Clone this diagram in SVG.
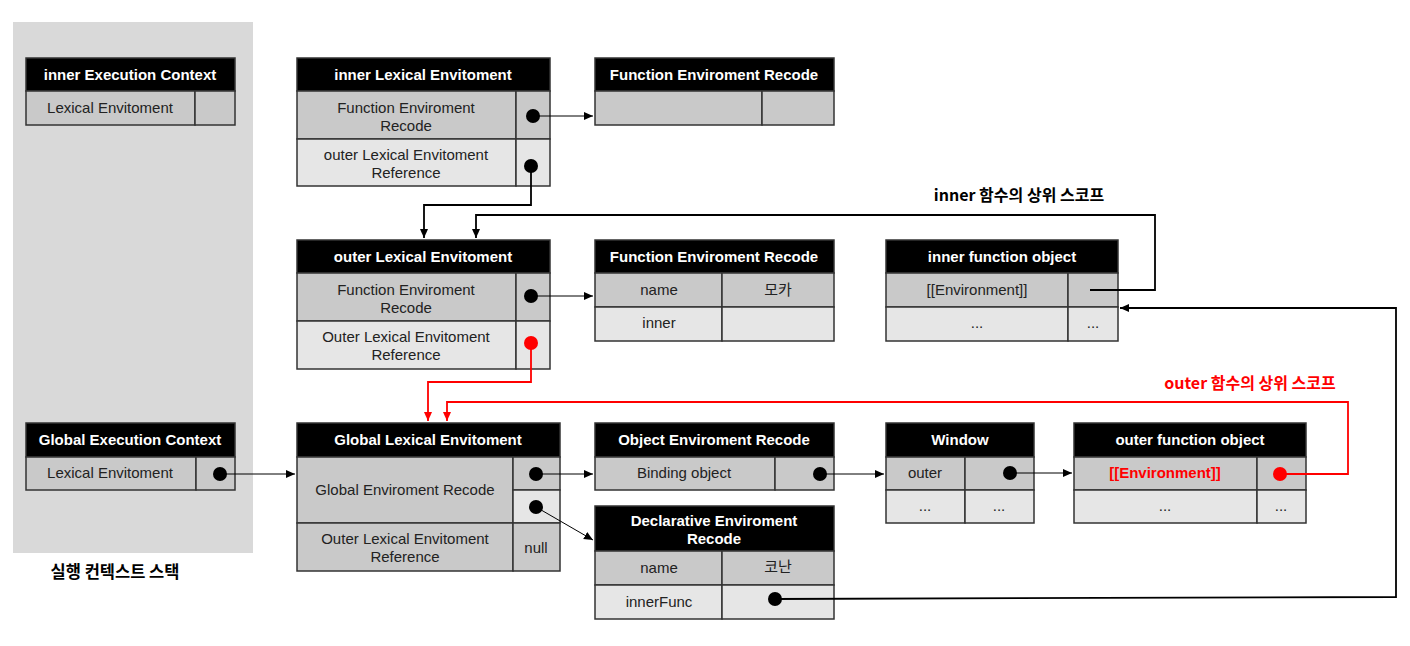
<svg xmlns="http://www.w3.org/2000/svg" width="1410" height="646" viewBox="0 0 1410 646">
<style>
text{font-family:"Liberation Sans","Noto Sans CJK KR",sans-serif;font-size:15px;text-anchor:middle;fill:#222}
.ht{fill:#fff;font-weight:bold}
.hd{fill:#000;stroke:#333;stroke-width:1.5}
.r1{fill:#c9c9c9;stroke:#333;stroke-width:1.5}
.r2{fill:#e6e6e6;stroke:#333;stroke-width:1.5}
.dot{fill:#000}
.rdot{fill:#f00}
.lbl{font-family:"Noto Sans CJK KR",sans-serif;font-weight:bold;fill:#000;font-size:16px}
.red{fill:#f00}
.c{fill:none;stroke:#000;stroke-width:1}
.ct{fill:none;stroke:#000;stroke-width:1.8}
.cr{fill:none;stroke:#f00;stroke-width:1.8}
</style>
<defs>
<marker id="ab" markerWidth="10" markerHeight="10" refX="9" refY="5" orient="auto" markerUnits="userSpaceOnUse"><path d="M0,1 L9,5 L0,9 z" fill="#000"/></marker>
<marker id="ar" markerWidth="10" markerHeight="10" refX="9" refY="5" orient="auto" markerUnits="userSpaceOnUse"><path d="M0,1 L9,5 L0,9 z" fill="#f00"/></marker>
</defs>
<rect x="13" y="22" width="240" height="531" fill="#d9d9d9"/>
<text class="lbl" x="115" y="578" style="font-size:16.5px">실행 컨텍스트 스택</text>
<text class="lbl" x="1019" y="201">inner 함수의 상위 스코프</text>
<text class="lbl red" x="1250" y="389">outer 함수의 상위 스코프</text>

<g id="inner-ec">
<rect class="hd" x="26" y="58" width="209" height="33"/>
<text class="ht" x="130" y="80">inner Execution Context</text>
<rect class="r1" x="26" y="91" width="169" height="34"/>
<rect class="r1" x="195" y="91" width="40" height="34"/>
<text x="110" y="113">Lexical Envitoment</text>
</g>

<g id="global-ec">
<rect class="hd" x="26" y="423" width="209" height="34"/>
<text class="ht" x="130" y="445">Global Execution Context</text>
<rect class="r1" x="26" y="457" width="170" height="33"/>
<rect class="r1" x="196" y="457" width="39" height="33"/>
<text x="110" y="478">Lexical Envitoment</text>
<circle class="dot" cx="220" cy="474" r="7"/>
</g>

<g id="inner-lex">
<rect class="hd" x="297" y="58" width="253" height="33"/>
<text class="ht" x="423" y="80">inner Lexical Envitoment</text>
<rect class="r1" x="297" y="91" width="219" height="48"/>
<rect class="r1" x="516" y="91" width="34" height="48"/>
<text x="406" y="113">Function Enviroment</text>
<text x="406" y="131">Recode</text>
<rect class="r2" x="297" y="139" width="219" height="47"/>
<rect class="r2" x="516" y="139" width="34" height="47"/>
<text x="406" y="160">outer Lexical Envitoment</text>
<text x="406" y="178">Reference</text>
<circle class="dot" cx="533" cy="116" r="7"/>
<circle class="dot" cx="531" cy="166" r="7"/>
</g>

<g id="func-env-top">
<rect class="hd" x="595" y="58" width="239" height="33"/>
<text class="ht" x="714" y="80">Function Enviroment Recode</text>
<rect class="r1" x="595" y="91" width="167" height="34"/>
<rect class="r1" x="762" y="91" width="72" height="34"/>
</g>

<g id="outer-lex">
<rect class="hd" x="297" y="240" width="253" height="33"/>
<text class="ht" x="423" y="262">outer Lexical Envitoment</text>
<rect class="r1" x="297" y="273" width="219" height="48"/>
<rect class="r1" x="516" y="273" width="34" height="48"/>
<text x="406" y="295">Function Enviroment</text>
<text x="406" y="313">Recode</text>
<rect class="r2" x="297" y="321" width="219" height="48"/>
<rect class="r2" x="516" y="321" width="34" height="48"/>
<text x="406" y="342">Outer Lexical Envitoment</text>
<text x="406" y="360">Reference</text>
<circle class="dot" cx="531" cy="296" r="7"/>
<circle class="rdot" cx="531" cy="343" r="7"/>
</g>

<g id="func-env-mid">
<rect class="hd" x="595" y="240" width="239" height="33"/>
<text class="ht" x="714" y="262">Function Enviroment Recode</text>
<rect class="r1" x="595" y="273" width="127" height="34"/>
<rect class="r1" x="722" y="273" width="112" height="34"/>
<text x="659" y="295">name</text>
<text x="778" y="295">모카</text>
<rect class="r2" x="595" y="307" width="127" height="34"/>
<rect class="r2" x="722" y="307" width="112" height="34"/>
<text x="659" y="328">inner</text>
</g>

<g id="inner-func-obj">
<rect class="hd" x="886" y="240" width="232" height="33"/>
<text class="ht" x="1002" y="262">inner function object</text>
<rect class="r1" x="886" y="273" width="182" height="34"/>
<rect class="r1" x="1068" y="273" width="50" height="34"/>
<text x="977" y="295">[[Environment]]</text>
<rect class="r2" x="886" y="307" width="182" height="34"/>
<rect class="r2" x="1068" y="307" width="50" height="34"/>
<text x="977" y="328">...</text>
<text x="1093" y="328">...</text>
</g>

<g id="global-lex">
<rect class="hd" x="297" y="423" width="263" height="34"/>
<text class="ht" x="428" y="445">Global Lexical Envitoment</text>
<rect class="r1" x="297" y="457" width="216" height="66"/>
<text x="405" y="495">Global Enviroment Recode</text>
<rect class="r1" x="513" y="457" width="47" height="33"/>
<rect class="r2" x="513" y="490" width="47" height="33"/>
<rect class="r1" x="297" y="523" width="216" height="48"/>
<text x="405" y="544">Outer Lexical Envitoment</text>
<text x="405" y="562">Reference</text>
<rect class="r1" x="513" y="523" width="47" height="48"/>
<text x="536" y="553">null</text>
<circle class="dot" cx="536" cy="474" r="7"/>
<circle class="dot" cx="536" cy="507" r="7"/>
</g>

<g id="object-env">
<rect class="hd" x="595" y="423" width="239" height="34"/>
<text class="ht" x="714" y="445">Object Enviroment Recode</text>
<rect class="r1" x="595" y="457" width="180" height="33"/>
<rect class="r1" x="775" y="457" width="59" height="33"/>
<text x="684" y="478">Binding object</text>
<circle class="dot" cx="820" cy="474" r="7"/>
</g>

<g id="window">
<rect class="hd" x="886" y="423" width="148" height="34"/>
<text class="ht" x="960" y="445">Window</text>
<rect class="r1" x="886" y="457" width="79" height="33"/>
<rect class="r1" x="965" y="457" width="69" height="33"/>
<text x="925" y="478">outer</text>
<circle class="dot" cx="1010" cy="473" r="7"/>
<rect class="r2" x="886" y="490" width="79" height="33"/>
<rect class="r2" x="965" y="490" width="69" height="33"/>
<text x="925" y="511">...</text>
<text x="999" y="511">...</text>
</g>

<g id="outer-func-obj">
<rect class="hd" x="1074" y="423" width="232" height="34"/>
<text class="ht" x="1190" y="445">outer function object</text>
<rect class="r1" x="1074" y="457" width="183" height="33"/>
<rect class="r1" x="1257" y="457" width="49" height="33"/>
<text class="red" x="1165" y="478" font-weight="bold">[[Environment]]</text>
<circle class="rdot" cx="1280" cy="474" r="7"/>
<rect class="r2" x="1074" y="490" width="183" height="33"/>
<rect class="r2" x="1257" y="490" width="49" height="33"/>
<text x="1165" y="511">...</text>
<text x="1281" y="511">...</text>
</g>

<g id="declarative-env">
<rect class="hd" x="595" y="506" width="239" height="45"/>
<text class="ht" x="714" y="526">Declarative Enviroment</text>
<text class="ht" x="714" y="544">Recode</text>
<rect class="r1" x="595" y="551" width="127" height="34"/>
<rect class="r1" x="722" y="551" width="112" height="34"/>
<text x="659" y="573">name</text>
<text x="778" y="572">코난</text>
<rect class="r2" x="595" y="585" width="127" height="34"/>
<rect class="r2" x="722" y="585" width="112" height="34"/>
<text x="659" y="607">innerFunc</text>
<circle class="dot" cx="775" cy="599" r="7"/>
</g>

<g id="connectors">
<path class="c" d="M533,116 H593" marker-end="url(#ab)"/>
<path class="ct" d="M531,166 V205 H424 V238" marker-end="url(#ab)"/>
<path class="ct" d="M1090,290 H1155 V215 H476 V238" marker-end="url(#ab)"/>
<path class="c" d="M531,296 H593" marker-end="url(#ab)"/>
<path class="cr" d="M531,343 V382 H428 V421" marker-end="url(#ar)"/>
<path class="cr" d="M1280,474 H1348 V402 H447 V421" marker-end="url(#ar)"/>
<path class="c" d="M220,474 H295" marker-end="url(#ab)"/>
<path class="c" d="M536,474 H593" marker-end="url(#ab)"/>
<path class="c" d="M536,507 L593,540" marker-end="url(#ab)"/>
<path class="c" d="M820,474 H884" marker-end="url(#ab)"/>
<path class="c" d="M1010,473 H1072" marker-end="url(#ab)"/>
<path class="ct" d="M775,599 L1396,597 V308 H1120" marker-end="url(#ab)"/>
</g>
</svg>
